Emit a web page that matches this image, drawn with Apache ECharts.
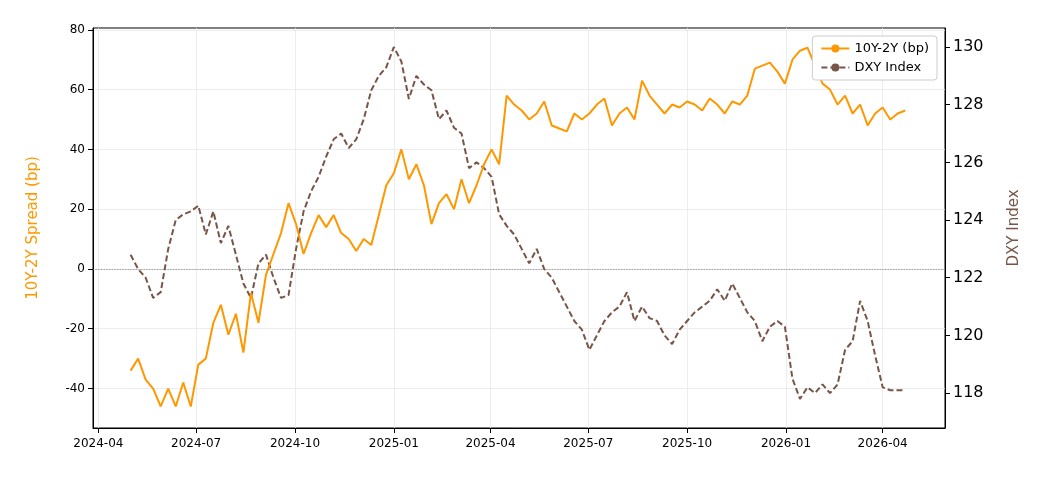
<!DOCTYPE html>
<html><head><meta charset="utf-8">
<script src="https://cdn.jsdelivr.net/npm/echarts@6/dist/echarts.min.js"></script>
<style>html,body{margin:0;padding:0;background:#fff}#c{width:1050px;height:480px}</style>
</head><body><div id="c"></div>
<script>
const startDate = '2024-05-01';
const spread = [
-34,-30,-37,-40,-46,
-40,-46,-38,-46,
-32,-30,-18,-12,-22,
-15,-28,-8,-18,
-2,5,12,22,
15,5,12,18,14,
18,12,10,6,
10,8,18,28,
32,40,30,35,28,
15,22,25,20,
30,22,28,35,
40,35,58,55,53,
50,52,56,48,
47,46,52,50,
52,55,57,48,52,
54,50,63,58,
55,52,55,54,
56,55,53,57,55,
52,56,55,58,
67,68,69,66,62,
70,73,74,68,
62,60,55,58,
52,55,48,52,
54,50,52,53];
const dxy = [
122.8,122.3,122.0,121.3,121.5,
123.0,124.0,124.2,124.3,
124.5,123.5,124.3,123.2,123.8,
122.8,121.8,121.3,122.5,
122.8,122.0,121.3,121.4,
123.0,124.3,125.0,125.5,126.2,
126.8,127.0,126.5,126.8,
127.5,128.5,129.0,129.3,
130.0,129.5,128.2,129.0,128.7,
128.5,127.5,127.8,127.2,
127.0,125.8,126.0,125.8,
125.5,124.2,123.8,123.5,123.0,
122.5,123.0,122.3,122.0,
121.5,121.0,120.5,120.2,
119.5,120.0,120.5,120.8,121.0,
121.5,120.5,121.0,120.6,
120.5,120.0,119.7,120.2,
120.5,120.8,121.0,121.2,121.6,
121.2,121.8,121.3,120.8,
120.5,119.8,120.3,120.5,120.3,
118.5,117.8,118.2,118.0,
118.3,118.0,118.3,119.5,
119.8,121.2,120.5,119.3,
118.2,118.1,118.1,118.1];
const tickLabels = ['2024-04','2024-07','2024-10','2025-01','2025-04','2025-07','2025-10','2026-01','2026-04'];

const DAY = 86400000;
const t0 = Date.parse(startDate + 'T00:00:00Z');
const dates = spread.map((_, i) => t0 + i * 7 * DAY);
const tickVals = tickLabels.map(s => Date.parse(s + '-01T00:00:00Z'));
const labelOf = {}; tickVals.forEach((v, i) => labelOf[v] = tickLabels[i]);

const chart = echarts.init(document.getElementById('c'));
chart.setOption({
  animation: false,
  grid: {left: 93, right: 105, top: 28, bottom: 52, show: true, borderColor: '#000', borderWidth: 1},
  legend: {
    show: true, right: 113, top: 36, orient: 'vertical', itemGap: 6,
    backgroundColor: '#fff', borderColor: '#ccc', borderWidth: 1, borderRadius: 3, padding: [6, 8],
    textStyle: {fontSize: 13, color: '#000', fontFamily: 'DejaVu Sans'},
    itemWidth: 28, itemHeight: 10
  },
  xAxis: {
    type: 'value',
    min: Date.parse('2024-03-27T00:00:00Z'), max: Date.parse('2026-05-29T00:00:00Z'),
    axisLine: {show: true, onZero: false, lineStyle: {color: '#000'}},
    axisTick: {show: true, customValues: tickVals, lineStyle: {color: '#000'}},
    axisLabel: {customValues: tickVals, formatter: v => labelOf[v] || '', fontSize: 12, color: '#000', fontFamily: 'DejaVu Sans', margin: 10},
    splitLine: {show: true, lineStyle: {color: '#e8e8e8', width: 0.8}}
  },
  yAxis: [{
    type: 'value', min: -53.2, max: 80.6, interval: 20,
    name: '10Y-2Y Spread (bp)', nameLocation: 'middle', nameGap: 52, nameRotate: 90,
    nameTextStyle: {color: '#ff9800', fontSize: 15, fontFamily: 'DejaVu Sans'},
    axisLine: {show: true, lineStyle: {color: '#000'}},
    axisTick: {show: true, customValues: [-40,-20,0,20,40,60,80]},
    axisLabel: {customValues: [-40,-20,0,20,40,60,80], fontSize: 12, color: '#000', fontFamily: 'DejaVu Sans'},
    splitLine: {show: true, lineStyle: {color: '#e8e8e8', width: 0.8}}
  }, {
    type: 'value', min: 116.79, max: 130.66, position: 'right',
    name: 'DXY Index', nameLocation: 'middle', nameGap: 62, nameRotate: 90,
    nameTextStyle: {color: '#795548', fontSize: 15, fontFamily: 'DejaVu Sans'},
    axisLine: {show: true, lineStyle: {color: '#000'}},
    axisTick: {show: true, customValues: [118,120,122,124,126,128,130]},
    axisLabel: {customValues: [118,120,122,124,126,128,130], fontSize: 16, color: '#000', fontFamily: 'DejaVu Sans'},
    splitLine: {show: false}
  }],
  series: [{
    name: '10Y-2Y (bp)', type: 'line', yAxisIndex: 0, showSymbol: false, symbol: 'none',
    data: dates.map((d, i) => [d, spread[i]]),
    lineStyle: {color: '#ff9800', width: 2}, itemStyle: {color: '#ff9800'}, z: 3,
    markLine: {silent: true, symbol: 'none', label: {show: false},
      lineStyle: {color: '#777', type: 'dotted', width: 0.8}, data: [{yAxis: 0}]}
  }, {
    name: 'DXY Index', type: 'line', yAxisIndex: 1, showSymbol: false, symbol: 'none',
    data: dates.map((d, i) => [d, dxy[i]]),
    lineStyle: {color: '#795548', width: 2, type: [6, 3]}, itemStyle: {color: '#795548'}, z: 2
  }]
});
</script></body></html>
